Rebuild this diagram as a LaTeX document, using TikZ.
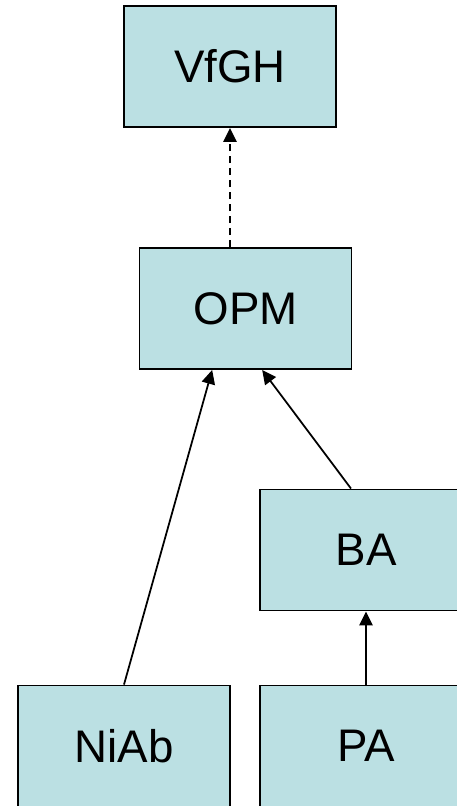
\documentclass[tikz,border=0pt]{standalone}
\usepackage{fontspec}
\setmainfont{Liberation Sans}
\usetikzlibrary{arrows.meta}
\definecolor{boxfill}{RGB}{187,224,227}
\begin{document}
\begin{tikzpicture}[node distance=7.26cm,
  block/.style={draw, line width=1.6pt, fill=boxfill, minimum width=6.36cm, minimum height=3.63cm, font=\fontsize{39}{47}\selectfont},
  arr/.style={-{Triangle[length=0.42cm,width=0.4cm]}, line width=1.5pt}]

  \clip (0,0) rectangle (13.71,-24.18);

  % Top row
  \node[block] at (6.9,-1.995) (V) {VfGH};
  \node[block, below of=V, xshift=0.465cm] (OPM) {OPM};

  % Lower rows
  \node[block, below of=OPM, xshift=3.615cm, yshift=0.015cm] (BA) {BA};
  \node[block, below of=BA, yshift=1.38cm] (PA) {PA};
  \node[block, left of=PA] (NiAb) {NiAb};

  % dashed arrow
  \draw[arr, dash pattern=on 0.21cm off 0.15cm] ([xshift=-0.465cm]OPM.north) -- (V.south);

  % arrows to OPM
  \draw[arr] (NiAb.north) -- ([xshift=-1cm]OPM.south);
  \draw[arr] ([xshift=-0.45cm]BA.north) -- ([xshift=0.5cm]OPM.south);

  % vertical arrow
  \draw[arr] (PA.north) -- (BA.south);

\end{tikzpicture}
\end{document}
